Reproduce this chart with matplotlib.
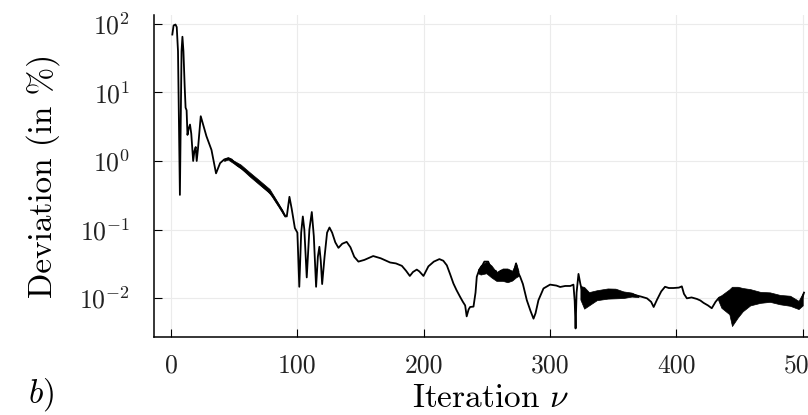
import numpy as np
import matplotlib
matplotlib.use("Agg")
import matplotlib.pyplot as plt
from matplotlib.ticker import FuncFormatter, NullLocator, FixedLocator

plt.rcParams["font.family"] = "serif"
plt.rcParams["font.serif"] = ["cmr10"]
plt.rcParams["mathtext.fontset"] = "cm"
plt.rcParams["axes.unicode_minus"] = False

# ---------- data ----------
iteration = [1, 2, 3.5, 4.5, 5.5, 6.3, 7, 7.6, 8.3, 9, 9.8, 10.8, 11.5, 12.3, 13, 14, 15, 16,
             17.5, 18.5, 19.5, 20.3, 21.3, 23.5, 25, 28, 32, 35.6, 38.8, 42, 45.4, 48, 52,
             57, 62.5, 68, 73, 77, 81, 85, 88, 90, 91.6, 93.7, 95.5, 98, 100, 101.5, 103,
             104.3, 105.5, 107.4, 109.5, 111.4, 113, 114.8, 116.2, 117.4, 118.5, 119.6,
             121.5, 123.5, 125.4, 127.5, 130, 132.5, 135.5, 139, 142, 145, 148.3, 153, 160,
             166, 173.4, 178, 182.7, 186, 189, 191.5, 194.5, 196.5, 199.8, 203.7, 208,
             212.4, 215.5, 218.3, 221, 223.5, 226, 228.8, 231, 232.8, 234, 235.5, 236.7,
             239.4, 241, 242, 244, 246, 248, 251, 253, 255, 257, 259, 261, 263, 265.8, 268,
             269.8, 271.5, 273, 274.5, 276.3, 278.5, 281.6, 284.5, 286.9, 288.5, 290.8,
             294.8, 300, 305, 308, 312, 316, 318.5, 319.5, 320.2, 321, 322.5, 324, 325.5,
             327.5, 331.7, 340, 348, 355.5, 362, 366, 372, 376.7, 380, 382, 384.6, 388,
             391, 394, 397.7, 402, 404.3, 406, 408.3, 412, 416.2, 419, 421.5, 425, 428,
             431, 433.3, 438, 444, 450.5, 458.4, 466, 474, 482, 490, 495, 497.5, 500, 501]
deviation = [70, 95, 98, 90, 40, 3, 0.32, 3, 40, 65, 40, 12, 6, 5.5, 2.4, 3.0, 3.4, 2.5,
             1.0, 1.4, 1.6, 1.0, 1.5, 4.5, 3.6, 2.3, 1.45, 0.66, 0.93, 1.05, 1.1, 1.05, 0.87,
             0.75, 0.63, 0.52, 0.42, 0.36, 0.30, 0.23, 0.19, 0.16, 0.155, 0.30, 0.2, 0.105,
             0.09, 0.0146, 0.09, 0.155, 0.1, 0.020, 0.1, 0.18, 0.08, 0.0146, 0.04, 0.056,
             0.035, 0.016, 0.04, 0.09, 0.107, 0.09, 0.065, 0.054, 0.062, 0.066, 0.055, 0.04,
             0.034, 0.036, 0.041, 0.038, 0.033, 0.032, 0.0295, 0.025, 0.021, 0.024, 0.026,
             0.0245, 0.021, 0.029, 0.034, 0.037, 0.035, 0.030, 0.022, 0.0163, 0.013, 0.0104,
             0.0088, 0.0078, 0.0054, 0.0068, 0.0074, 0.0075, 0.012, 0.0205, 0.026, 0.029,
             0.034, 0.034, 0.028, 0.022, 0.025, 0.0205, 0.025, 0.021, 0.022, 0.025, 0.019,
             0.024, 0.032, 0.024, 0.0205, 0.016, 0.0093, 0.0065, 0.005, 0.006, 0.0093,
             0.0138, 0.0157, 0.0152, 0.0145, 0.015, 0.0150, 0.0157, 0.009, 0.0036, 0.012,
             0.0225, 0.016, 0.0125, 0.009, 0.0105, 0.0113, 0.0115, 0.0112, 0.0115, 0.0112,
             0.0105, 0.0099, 0.0088, 0.0074, 0.0094, 0.0125, 0.0146, 0.014, 0.014, 0.0142,
             0.0148, 0.0115, 0.0099, 0.0102, 0.0097, 0.0092, 0.0085, 0.0078, 0.0071, 0.0088,
             0.0099, 0.0105, 0.0095, 0.010, 0.0102, 0.0103, 0.0103, 0.0095, 0.0091, 0.0085,
             0.0075, 0.0105, 0.012]

# envelopes of the fast-oscillating stretches (lower / upper edge)
band1_x = [42, 45, 55, 62, 70, 78, 85, 90]
band1_lo = [1.0, 1.05, 0.79, 0.6, 0.45, 0.34, 0.215, 0.153]
band1_hi = [1.08, 1.13, 0.89, 0.69, 0.52, 0.39, 0.24, 0.165]

band2_x = [243, 245, 249.5, 253.5, 257.5, 262.5, 266.3, 270, 273, 275]
band2_lo = [0.023, 0.022, 0.023, 0.02, 0.0178, 0.0178, 0.017, 0.018, 0.02, 0.021]
band2_hi = [0.026, 0.03, 0.034, 0.03, 0.024, 0.027, 0.027, 0.025, 0.033, 0.025]

band3_x = [324, 327, 330.8, 337, 345.6, 351.8, 358, 364.6, 370]
band3_lo = [0.0095, 0.007, 0.0078, 0.0093, 0.0098, 0.0099, 0.01, 0.0105, 0.0103]
band3_hi = [0.015, 0.0145, 0.0122, 0.013, 0.0138, 0.0137, 0.0125, 0.012, 0.0108]

band4_x = [433, 435.6, 441.9, 444, 448.6, 452.5, 458.4, 466.4, 474, 482, 490, 496.7, 500]
band4_lo = [0.0094, 0.0072, 0.0058, 0.0039, 0.0052, 0.0064, 0.0078, 0.0085, 0.0088, 0.0081,
            0.0077, 0.0069, 0.0078]
band4_hi = [0.0104, 0.011, 0.0134, 0.0146, 0.0146, 0.014, 0.0135, 0.0123, 0.0121, 0.0111,
            0.0108, 0.0091, 0.0118]

x_ticks = [0, 100, 200, 300, 400, 500]
y_ticks = [1e-2, 1e-1, 1e0, 1e1, 1e2]

# ---------- figure ----------
fig = plt.figure(figsize=(8.08, 4.15), dpi=100)
ax = fig.add_axes([154 / 808, 78 / 415, 674 / 808, 322 / 415])

for bx, lo, hi in [(band1_x, band1_lo, band1_hi), (band2_x, band2_lo, band2_hi),
                   (band3_x, band3_lo, band3_hi), (band4_x, band4_lo, band4_hi)]:
    ax.fill_between(bx, lo, hi, color="black", linewidth=0.5, zorder=3)

ax.plot(iteration, deviation, color="black", linewidth=1.3, zorder=4)

ax.set_yscale("log")
ax.set_xlim(-13.5, 520)
ax.set_ylim(0.0027, 135)

ax.xaxis.set_major_locator(FixedLocator(x_ticks))
ax.yaxis.set_major_locator(FixedLocator(y_ticks))
ax.yaxis.set_minor_locator(NullLocator())
ax.yaxis.set_major_formatter(FuncFormatter(lambda v, p: r"$10^{%d}$" % round(np.log10(v))))

ax.grid(True, color="#ebebeb", linewidth=0.8, zorder=0)
ax.set_axisbelow(True)

for s in ["top", "right"]:
    ax.spines[s].set_visible(False)
for s in ["left", "bottom"]:
    ax.spines[s].set_linewidth(1.1)

ax.tick_params(axis="both", which="major", direction="in", length=5.5, width=0.8,
               labelsize=18.5, color="black", labelcolor="#222222")
ax.tick_params(axis="x", pad=12)
ax.tick_params(axis="y", pad=17)

ax.set_xlabel(r"Iteration $\nu$", fontsize=24, labelpad=5)
ax.set_ylabel(r"Deviation (in %)", fontsize=24, labelpad=14)

fig.text(28 / 808, 12 / 415, r"$b)$", fontsize=24)

fig.savefig("out.png", dpi=100)
